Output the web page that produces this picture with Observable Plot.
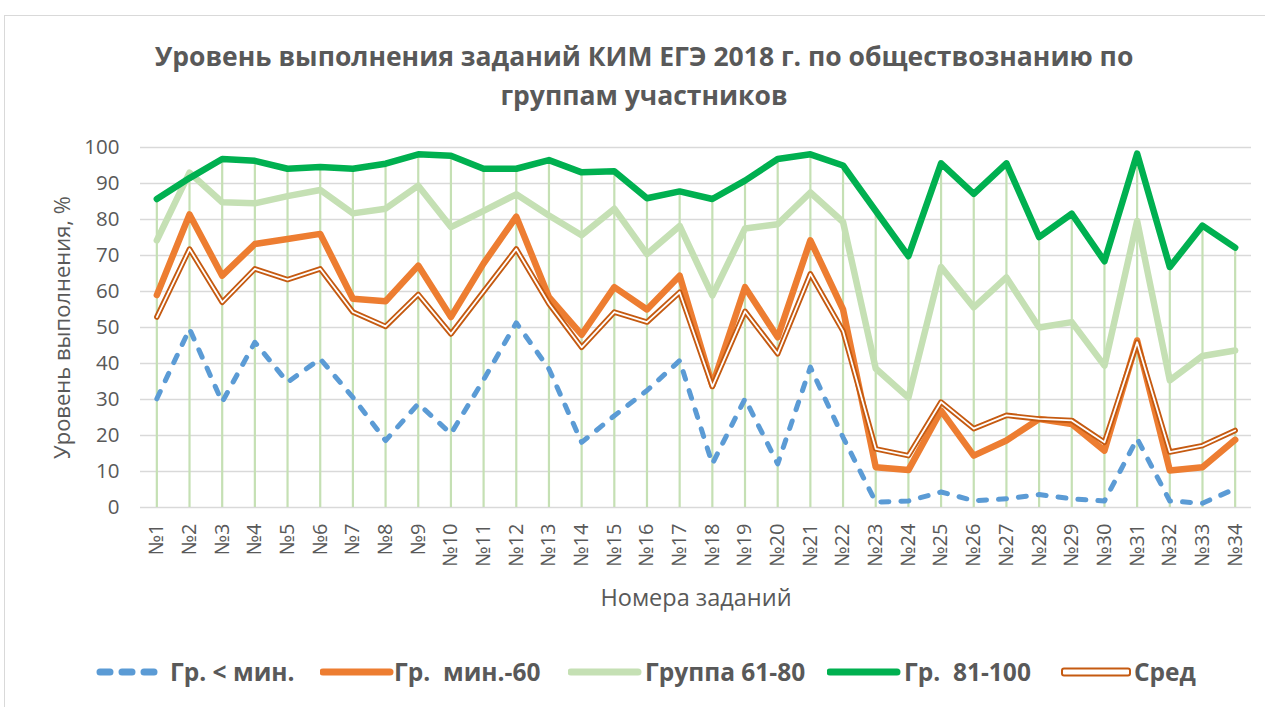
<!DOCTYPE html>
<html><head><meta charset="utf-8">
<script src="https://cdn.jsdelivr.net/npm/d3@7"></script>
<script src="https://cdn.jsdelivr.net/npm/@observablehq/plot@0.6"></script>
<style>
html,body{margin:0;padding:0;background:#fff;overflow:hidden}
#wrap{position:relative;width:1265px;height:707px;overflow:hidden;font-family:"Open Sans",sans-serif;color:#595959}
#frame{position:absolute;left:4px;top:15px;width:1300px;height:720px;border:1px solid #d9d9d9;box-sizing:border-box}
#title{position:absolute;left:0;top:37px;width:1288px;text-align:center;font-family:"Open Sans",sans-serif;font-weight:bold;font-size:26.5px;line-height:39px;color:#595959;white-space:nowrap}
#chart{position:absolute;left:0;top:120px;width:1265px}
.lg{position:absolute;top:658px;height:28px}
.lgt{position:absolute;top:656px;font-family:"Open Sans",sans-serif;font-weight:bold;font-size:24.5px;line-height:32px;color:#595959;white-space:pre}
</style></head>
<body><div id="wrap"><div id="frame"></div>
<div id="title">Уровень выполнения заданий КИМ ЕГЭ 2018 г. по обществознанию по<br>группам участников</div>
<div id="chart"></div><div id="legend"></div></div>
<script>
const tasks = ["№1","№2","№3","№4","№5","№6","№7","№8","№9","№10","№11","№12","№13","№14","№15","№16","№17","№18","№19","№20","№21","№22","№23","№24","№25","№26","№27","№28","№29","№30","№31","№32","№33","№34"];
const yTicks = [0,10,20,30,40,50,60,70,80,90,100];
const seriesNames = ["Гр. < мин.", "Гр.  мин.-60", "Группа 61-80", "Гр.  81-100", "Сред"];
const grpLow = [30.2,49.6,29.3,45.9,34.8,41.3,30.6,18.6,28.8,20.5,35.5,51.3,38.5,18.1,25.5,32.5,40.8,12.1,30.2,12.1,39.0,19.5,1.5,1.8,4.3,1.9,2.4,3.6,2.4,1.8,19.1,1.8,1.2,5.2];
const grpMin60 = [59.0,81.4,64.4,73.2,74.6,76.0,58.0,57.3,67.2,52.9,67.8,80.8,58.4,48.0,61.2,55.0,64.4,33.9,61.2,47.3,74.2,55.0,11.2,10.4,26.9,14.4,18.6,24.6,23.2,15.8,46.4,10.3,11.2,18.8];
const grp6180 = [74.2,93.0,84.8,84.5,86.5,88.2,81.7,83.0,89.4,77.9,82.4,87.0,81.1,75.6,83.0,70.4,78.2,58.9,77.5,78.7,87.5,79.3,38.6,30.5,66.8,55.6,63.9,50.0,51.5,39.4,79.6,35.3,42.1,43.6];
const grp81100 = [85.7,91.5,96.8,96.3,94.1,94.6,94.1,95.5,98.1,97.7,94.1,94.1,96.5,93.1,93.4,85.9,87.8,85.7,90.8,96.8,98.1,95.0,82.4,69.8,95.6,87.1,95.6,75.1,81.6,68.4,98.3,66.8,78.3,72.2];
const grpAvg = [52.9,71.8,57.0,66.3,63.3,66.3,54.3,50.3,59.2,48.2,60.0,71.8,56.6,44.5,54.3,51.5,59.8,33.6,54.5,42.7,64.9,49.0,16.3,14.4,29.3,21.9,25.6,24.6,24.2,18.1,45.9,15.4,17.2,21.4];

// category position = index (1-based) on a linear scale, labels come from tasks
const rows = v => tasks.map((t,i)=>({i:i+1, t, v:v[i]}));
const maxRows = tasks.map((t,i)=>({i:i+1, t, v:Math.max(grpLow[i],grpMin60[i],grp6180[i],grp81100[i],grpAvg[i])}));
const common = {x:"i", y:"v", strokeLinejoin:"round", strokeLinecap:"round"};
const F = "Open Sans, sans-serif";

const plot = Plot.plot({
  width: 1265, height: 520,
  marginLeft: 140, marginRight: 14, marginTop: 27, marginBottom: 133,
  style: {fontFamily: F, color: "#595959", background: "transparent", overflow: "visible", maxWidth: "none"},
  x: {type: "linear", domain: [0.5, tasks.length + 0.5], axis: null},
  y: {domain: [0,100], axis: null},
  marks: [
    Plot.ruleY(yTicks, {stroke:"#d9d9d9", strokeWidth:1.4}),
    Plot.ruleX(maxRows, {x:"i", y1:0, y2:"v", stroke:"#c5e0b4", strokeWidth:2.2}),
    Plot.line(rows(grpLow), {...common, stroke:"#5b9bd5", strokeWidth:5, strokeDasharray:"8 12"}),
    Plot.line(rows(grpMin60), {...common, stroke:"#ed7d31", strokeWidth:6.5}),
    Plot.line(rows(grp6180), {...common, stroke:"#c5e0b4", strokeWidth:6.5}),
    Plot.line(rows(grp81100), {...common, stroke:"#00b050", strokeWidth:6.5}),
    Plot.line(rows(grpAvg), {...common, stroke:"#c55a11", strokeWidth:5.5}),
    Plot.line(rows(grpAvg), {...common, stroke:"#ffffff", strokeWidth:1.8}),
    Plot.text(yTicks, {frameAnchor:"left", y: d=>d, text: d=>String(d), dx:-21, textAnchor:"end", fontSize:20.5, fill:"#595959"}),
    Plot.text(rows(grpLow), {x:"i", y: ()=>0, text:"t", dy:16, rotate:-90, textAnchor:"end", fontSize:20, fill:"#595959"}),
    Plot.text(["Уровень выполнения, %"], {frameAnchor:"left", dx:-78, rotate:-90, textAnchor:"middle", fontSize:22, fill:"#595959"}),
    Plot.text(["Номера заданий"], {frameAnchor:"bottom", dy:91, lineAnchor:"middle", textAnchor:"middle", fontSize:23.5, fill:"#595959"})
  ]
});
document.getElementById("chart").appendChild(plot);

// legend
const lg = document.getElementById("legend");
const swLeft = [95,320,568,827,1060];
const txLeft = [170,394,645,904,1134];
const swatches = [
  '<line x1="5" y1="14" x2="66" y2="14" stroke="#5b9bd5" stroke-width="7" stroke-linecap="round" stroke-dasharray="10 12"/>',
  '<line x1="3" y1="14" x2="70" y2="14" stroke="#ed7d31" stroke-width="7" stroke-linecap="round"/>',
  '<line x1="3" y1="14" x2="70" y2="14" stroke="#c5e0b4" stroke-width="7" stroke-linecap="round"/>',
  '<line x1="3" y1="14" x2="70" y2="14" stroke="#00b050" stroke-width="7" stroke-linecap="round"/>',
  '<rect x="2" y="10.5" width="68" height="7" rx="2" fill="#fff" stroke="#c55a11" stroke-width="2"/>'
];
seriesNames.forEach((n,i)=>{
  const s = document.createElementNS("http://www.w3.org/2000/svg","svg");
  s.setAttribute("width","74"); s.setAttribute("height","28");
  s.setAttribute("class","lg"); s.style.left = swLeft[i]+"px";
  s.innerHTML = swatches[i];
  lg.appendChild(s);
  const t = document.createElement("div");
  t.className = "lgt"; t.style.left = txLeft[i]+"px";
  t.textContent = n;
  lg.appendChild(t);
});
</script></body></html>
